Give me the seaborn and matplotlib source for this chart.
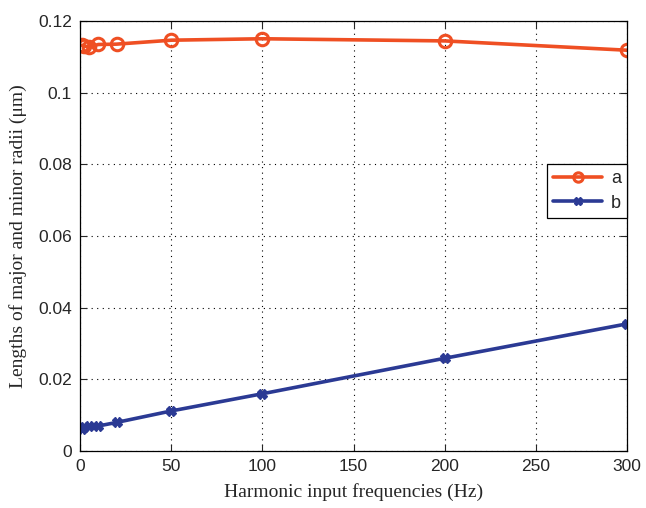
import numpy as np
import pandas as pd
import matplotlib
matplotlib.use("Agg")
import matplotlib.pyplot as plt
import seaborn as sns

freqs = [1, 2, 5, 10, 20, 50, 100, 200, 300]
a_vals = [0.1132, 0.1130, 0.1127, 0.1134, 0.1135, 0.1146, 0.1150, 0.1144, 0.1118]
b_vals = [0.0063, 0.0066, 0.0069, 0.0070, 0.0080, 0.0112, 0.0160, 0.0259, 0.0355]
series_names = ["a", "b"]
xticks = [0, 50, 100, 150, 200, 250, 300]
yticks = [0, 0.02, 0.04, 0.06, 0.08, 0.1, 0.12]
ytick_labels = ["0", "0.02", "0.04", "0.06", "0.08", "0.1", "0.12"]

df_a = pd.DataFrame({"freq": freqs, "val": a_vals})
df_b = pd.DataFrame({"freq": freqs, "val": b_vals})

sns.set_style("ticks")
plt.rcParams["font.family"] = ["Liberation Sans", "DejaVu Sans"]

fig = plt.figure(figsize=(6.46, 5.08), dpi=100)
ax = fig.add_axes([0.124, 0.112, 0.847, 0.847])

col_a = "#EF4F23"
col_b = "#2B3A94"
sns.lineplot(data=df_a, x="freq", y="val", color=col_a, marker="o",
             markersize=9, markerfacecolor="none", markeredgecolor=col_a,
             markeredgewidth=2.2, linewidth=2.6, ax=ax, label=series_names[0])
sns.lineplot(data=df_b, x="freq", y="val", color=col_b, marker="X",
             markersize=7, markerfacecolor=col_b, markeredgecolor=col_b,
             markeredgewidth=1.0, linewidth=2.6, ax=ax, label=series_names[1])

ax.set_xlim(0, 300)
ax.set_ylim(0, 0.12)
ax.set_xticks(xticks)
ax.set_yticks(yticks)
ax.set_yticklabels(ytick_labels)
ax.tick_params(direction="in", length=5, width=0.8, labelsize=12.5, top=True, right=True, pad=6)
for s in ax.spines.values():
    s.set_visible(True)
    s.set_linewidth(0.9)
    s.set_color("black")
ax.grid(True, linestyle=(0, (1, 4)), color="black", linewidth=0.8)

ax.set_xlabel("Harmonic input frequencies (Hz)", family=["Liberation Serif"], fontsize=14, labelpad=6)
ax.set_ylabel("Lengths of major and minor radii (\u03bcm)", family=["Liberation Serif"], fontsize=14, labelpad=8)

leg = ax.legend(loc="upper right", bbox_to_anchor=(1.0, 0.667), borderaxespad=0,
                fancybox=False, framealpha=1, edgecolor="black", fontsize=13,
                handlelength=2.7, handletextpad=0.5, borderpad=0.35, labelspacing=0.4,
                markerscale=0.75)
leg.get_frame().set_linewidth(0.9)

fig.savefig("out.png", dpi=100)
